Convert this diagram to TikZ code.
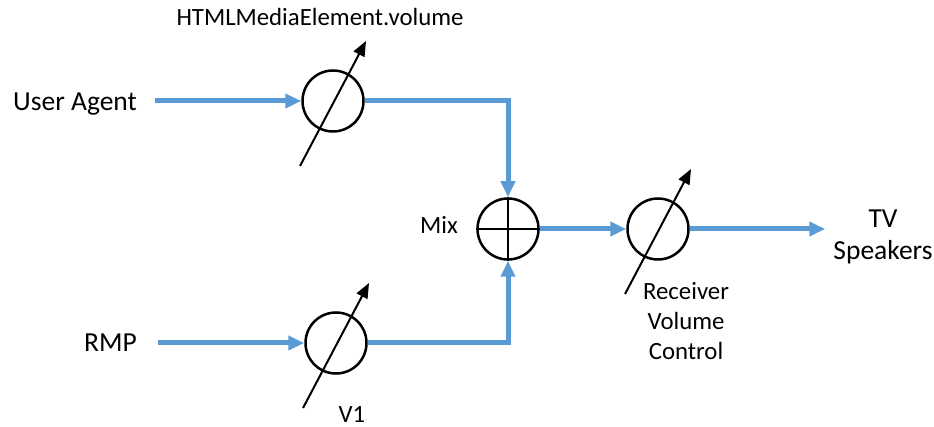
\documentclass[tikz,border=0pt]{standalone}
\usepackage{fontspec}
\setmainfont{Carlito}
\usetikzlibrary{arrows.meta}
\usetikzlibrary{calc}
\definecolor{sigblue}{HTML}{5B9BD5}

\begin{document}
\begin{tikzpicture}[x=1pt, y=-1pt,
        flow/.style = {sigblue, line width=5pt, -{Triangle[length=16pt,width=14pt]}},
        knob/.style = {black, line width=2pt, -{Triangle[length=15pt,width=12pt]}},
        dial/.style = {draw, circle, line width=2.5pt, minimum size=61pt, inner sep=0pt},
        big/.style = {font=\fontsize{27.5}{31.5}\selectfont, inner sep=2pt},
        small/.style = {font=\fontsize{24.8}{30}\selectfont, inner sep=2pt}]
            \useasboundingbox (0,0) rectangle (934,427);
            % volume controls and the mixer
            \node[dial] (uavol) at (333,101) {};
            \node[dial] (rmpvol) at (336,343) {};
            \node[dial] (mix) at (508,229) {};
            \node[dial] (rxvol) at (658,229) {};
            \draw[black, line width=1.5pt] (mix.north) -- (mix.south);
            \draw[black, line width=1.5pt] (mix.west) -- (mix.east);

            % labels
            \node[big, anchor=base east] (ua) at (139,111) {User Agent};
            \node[big, anchor=base east] (rmp) at (139,352) {RMP};
            \node[big, align=center] (tv) at (883,237) {TV\\Speakers};
            \node[small, anchor=base] (htmlvol) at (320,26) {HTMLMediaElement.volume};
            \node[small, anchor=base] (v1) at (352,422) {V1};
            \node[small, anchor=base east] (mixlbl) at (460,234) {Mix};
            \node[small, align=center] (rxlbl) at (686,321) {Receiver\\Volume\\Control};

            % signal path
            \draw[flow, shorten <=16pt] (ua.east |- uavol.west) -- (uavol.west);
            \draw[flow, shorten <=19pt] (rmp.east |- rmpvol.west) -- (rmpvol.west);
            \draw[flow] (uavol.east) -| (mix.north);
            \draw[flow] (rmpvol.east) -| (mix.south);
            \draw[flow] (mix.east) -- (rxvol.west);
            \draw[flow, shorten >=6pt] (rxvol.east) -- (rxvol.east -| tv.west);

            % adjustment arrows
            \foreach \n in {uavol,rmpvol,rxvol}
                \draw[knob] ($(\n)+(-33,65)$) -- ($(\n)+(33,-60)$);
        \end{tikzpicture}
\end{document}
